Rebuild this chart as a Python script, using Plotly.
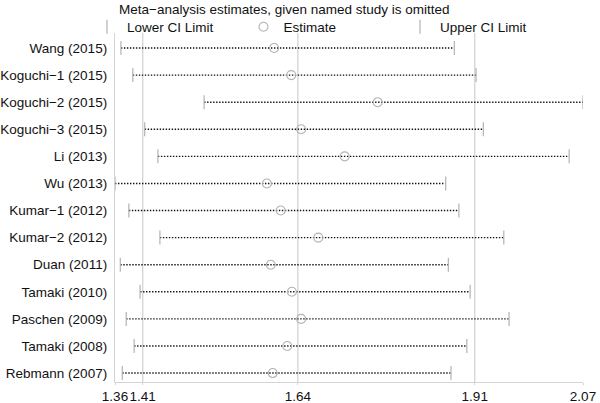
import plotly.graph_objects as go

studies = ["Wang (2015)", "Koguchi−1 (2015)", "Koguchi−2 (2015)", "Koguchi−3 (2015)",
           "Li (2013)", "Wu (2013)", "Kumar−1 (2012)", "Kumar−2 (2012)", "Duan (2011)",
           "Tamaki (2010)", "Paschen (2009)", "Tamaki (2008)", "Rebmann (2007)"]
lower = [1.372, 1.390, 1.498, 1.408, 1.428, 1.363, 1.384, 1.431, 1.371, 1.401, 1.380, 1.392, 1.374]
estimate = [1.604, 1.630, 1.761, 1.645, 1.711, 1.593, 1.614, 1.671, 1.599, 1.631, 1.645, 1.624, 1.602]
upper = [1.877, 1.910, 2.072, 1.921, 2.051, 1.864, 1.884, 1.952, 1.868, 1.901, 1.960, 1.896, 1.872]

# overall estimate with its CI (reference lines)
overall = [1.405, 1.640, 1.908]
tick_vals = [min(lower)] + overall + [max(upper)]
tick_text = ["1.36", "1.41", "1.64", "1.91", "2.07"]

FONT = "Liberation Sans, Arial, Helvetica, sans-serif"
GREY = "#b3b3b3"
GRID = "#d4d4d4"
FS = 13.5

fig = go.Figure()

# dotted CI lines
xs, ys = [], []
for s, lo, hi in zip(studies, lower, upper):
    xs += [lo, hi, None]
    ys += [s, s, None]
fig.add_trace(go.Scatter(x=xs, y=ys, mode="lines", showlegend=False, hoverinfo="skip",
                         line=dict(color="#111111", width=1.4, dash="1.4px,1.6px")))

fig.add_trace(go.Scatter(x=lower, y=studies, mode="markers", name="Lower CI Limit",
                         marker=dict(symbol="line-ns", size=10, color=GREY,
                                     line=dict(color=GREY, width=1.2))))
fig.add_trace(go.Scatter(x=estimate, y=studies, mode="markers", name="Estimate",
                         marker=dict(symbol="circle-open", size=9, color=GREY,
                                     line=dict(color=GREY, width=1.1))))
fig.add_trace(go.Scatter(x=upper, y=studies, mode="markers", name="Upper CI Limit",
                         marker=dict(symbol="line-ns", size=10, color=GREY,
                                     line=dict(color=GREY, width=1.2))))

for v in overall:
    fig.add_shape(type="line", xref="x", yref="paper", x0=v, x1=v, y0=0, y1=1,
                  line=dict(color=GRID, width=1.3), layer="below")

fig.update_layout(
    width=600, height=403,
    margin=dict(l=115, r=17, t=33, b=21, autoexpand=False),
    paper_bgcolor="white", plot_bgcolor="white",
    font=dict(family=FONT, size=FS, color="#111111"),
    title=dict(text="Meta−analysis estimates, given named study is omitted",
               xref="container", x=119 / 600, xanchor="left",
               yref="container", y=1 - 9 / 403, yanchor="middle",
               font=dict(family=FONT, size=FS, color="#111111")),
    legend=dict(orientation="h", xref="paper", x=(87 - 115) / 468, xanchor="left",
                yref="paper", y=1 + 6 / 349, yanchor="middle",
                entrywidth=111.5, entrywidthmode="pixels",
                font=dict(family=FONT, size=FS, color="#111111"),
                bgcolor="rgba(0,0,0,0)", tracegroupgap=0),
    showlegend=True,
)

fig.update_xaxes(range=[min(lower), max(upper)], tickmode="array",
                 tickvals=tick_vals, ticktext=tick_text, tickangle=0,
                 automargin=False,
                 showgrid=False, zeroline=False, showline=True, linecolor=GRID,
                 linewidth=1.3, ticks="outside", ticklen=2, tickcolor=GRID,
                 tickfont=dict(family=FONT, size=FS, color="#111111"))
fig.update_yaxes(categoryorder="array", categoryarray=studies, automargin=False,
                 range=[12.33, -0.554], showgrid=False, zeroline=False,
                 showline=True, linecolor=GRID, linewidth=1.3,
                 ticks="outside", ticklen=4, tickcolor="rgba(0,0,0,0)",
                 tickfont=dict(family=FONT, size=FS, color="#111111"))

fig.write_html("out.html", config={"displayModeBar": False},
               post_script="document.body.style.margin='0px';")
